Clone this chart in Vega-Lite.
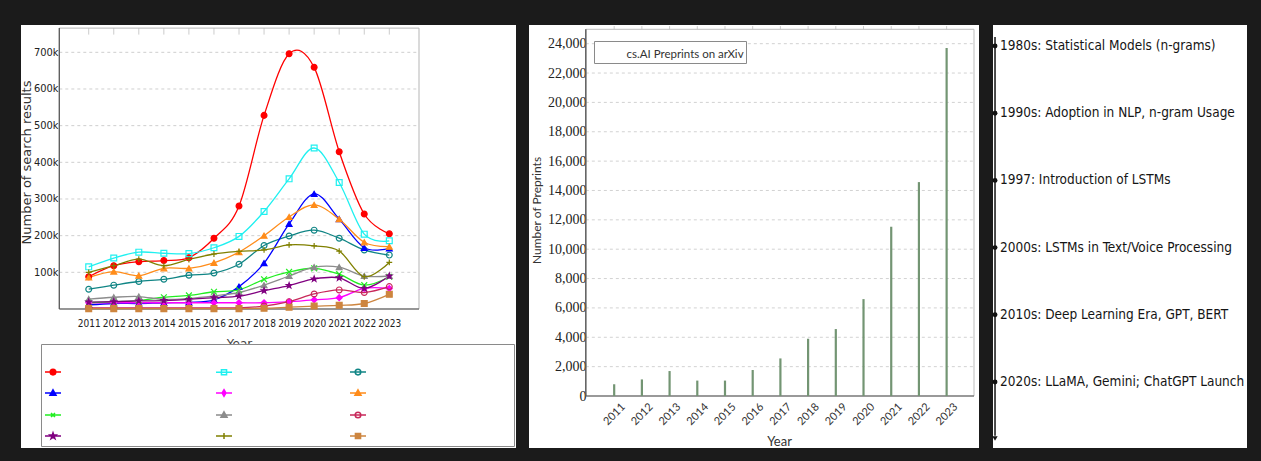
{
  "$schema": "https://vega.github.io/schema/vega-lite/v6.json",
  "background": "#1b1b1b",
  "padding": {"left": 20, "top": 25, "right": 16, "bottom": 13},
  "spacing": 13,
  "config": {"view": {"fill": "white", "stroke": null}, "font": "Lato", "axis": {"labelOverlap": false}},
  "datasets": {
    "search": [
      {"series":"T01","year":2011,"results":88000},{"series":"T01","year":2012,"results":118000},{"series":"T01","year":2013,"results":129000},{"series":"T01","year":2014,"results":132000},{"series":"T01","year":2015,"results":140000},{"series":"T01","year":2016,"results":193000},{"series":"T01","year":2017,"results":281000},{"series":"T01","year":2018,"results":528000},{"series":"T01","year":2019,"results":696000},{"series":"T01","year":2020,"results":659000},{"series":"T01","year":2021,"results":429000},{"series":"T01","year":2022,"results":259000},{"series":"T01","year":2023,"results":205000},
      {"series":"T02","year":2011,"results":115000},{"series":"T02","year":2012,"results":139000},{"series":"T02","year":2013,"results":155000},{"series":"T02","year":2014,"results":152000},{"series":"T02","year":2015,"results":151000},{"series":"T02","year":2016,"results":167000},{"series":"T02","year":2017,"results":198000},{"series":"T02","year":2018,"results":266000},{"series":"T02","year":2019,"results":355000},{"series":"T02","year":2020,"results":439000},{"series":"T02","year":2021,"results":345000},{"series":"T02","year":2022,"results":204000},{"series":"T02","year":2023,"results":186000},
      {"series":"T03","year":2011,"results":54000},{"series":"T03","year":2012,"results":65000},{"series":"T03","year":2013,"results":75000},{"series":"T03","year":2014,"results":81000},{"series":"T03","year":2015,"results":92000},{"series":"T03","year":2016,"results":98000},{"series":"T03","year":2017,"results":122000},{"series":"T03","year":2018,"results":173000},{"series":"T03","year":2019,"results":199000},{"series":"T03","year":2020,"results":215000},{"series":"T03","year":2021,"results":193000},{"series":"T03","year":2022,"results":161000},{"series":"T03","year":2023,"results":147000},
      {"series":"T04","year":2011,"results":11000},{"series":"T04","year":2012,"results":15000},{"series":"T04","year":2013,"results":15000},{"series":"T04","year":2014,"results":17000},{"series":"T04","year":2015,"results":18000},{"series":"T04","year":2016,"results":25000},{"series":"T04","year":2017,"results":61000},{"series":"T04","year":2018,"results":125000},{"series":"T04","year":2019,"results":232000},{"series":"T04","year":2020,"results":314000},{"series":"T04","year":2021,"results":245000},{"series":"T04","year":2022,"results":167000},{"series":"T04","year":2023,"results":165000},
      {"series":"T05","year":2011,"results":17000},{"series":"T05","year":2012,"results":17000},{"series":"T05","year":2013,"results":17000},{"series":"T05","year":2014,"results":17000},{"series":"T05","year":2015,"results":17000},{"series":"T05","year":2016,"results":17000},{"series":"T05","year":2017,"results":17000},{"series":"T05","year":2018,"results":17000},{"series":"T05","year":2019,"results":20000},{"series":"T05","year":2020,"results":25000},{"series":"T05","year":2021,"results":31000},{"series":"T05","year":2022,"results":56000},{"series":"T05","year":2023,"results":56000},
      {"series":"T06","year":2011,"results":86000},{"series":"T06","year":2012,"results":102000},{"series":"T06","year":2013,"results":91000},{"series":"T06","year":2014,"results":111000},{"series":"T06","year":2015,"results":111000},{"series":"T06","year":2016,"results":126000},{"series":"T06","year":2017,"results":155000},{"series":"T06","year":2018,"results":200000},{"series":"T06","year":2019,"results":251000},{"series":"T06","year":2020,"results":284000},{"series":"T06","year":2021,"results":245000},{"series":"T06","year":2022,"results":182000},{"series":"T06","year":2023,"results":170000},
      {"series":"T07","year":2011,"results":17000},{"series":"T07","year":2012,"results":20000},{"series":"T07","year":2013,"results":23000},{"series":"T07","year":2014,"results":32000},{"series":"T07","year":2015,"results":37000},{"series":"T07","year":2016,"results":47000},{"series":"T07","year":2017,"results":52000},{"series":"T07","year":2018,"results":81000},{"series":"T07","year":2019,"results":101000},{"series":"T07","year":2020,"results":111000},{"series":"T07","year":2021,"results":95000},{"series":"T07","year":2022,"results":65000},{"series":"T07","year":2023,"results":88000},
      {"series":"T08","year":2011,"results":27000},{"series":"T08","year":2012,"results":32000},{"series":"T08","year":2013,"results":34000},{"series":"T08","year":2014,"results":26000},{"series":"T08","year":2015,"results":29000},{"series":"T08","year":2016,"results":36000},{"series":"T08","year":2017,"results":45000},{"series":"T08","year":2018,"results":65000},{"series":"T08","year":2019,"results":90000},{"series":"T08","year":2020,"results":114000},{"series":"T08","year":2021,"results":114000},{"series":"T08","year":2022,"results":90000},{"series":"T08","year":2023,"results":90000},
      {"series":"T09","year":2011,"results":3000},{"series":"T09","year":2012,"results":3000},{"series":"T09","year":2013,"results":3000},{"series":"T09","year":2014,"results":3000},{"series":"T09","year":2015,"results":3000},{"series":"T09","year":2016,"results":3000},{"series":"T09","year":2017,"results":3000},{"series":"T09","year":2018,"results":8000},{"series":"T09","year":2019,"results":20000},{"series":"T09","year":2020,"results":41000},{"series":"T09","year":2021,"results":52000},{"series":"T09","year":2022,"results":45000},{"series":"T09","year":2023,"results":61000},
      {"series":"T10","year":2011,"results":19000},{"series":"T10","year":2012,"results":20000},{"series":"T10","year":2013,"results":22000},{"series":"T10","year":2014,"results":23000},{"series":"T10","year":2015,"results":26000},{"series":"T10","year":2016,"results":31000},{"series":"T10","year":2017,"results":35000},{"series":"T10","year":2018,"results":50000},{"series":"T10","year":2019,"results":64000},{"series":"T10","year":2020,"results":82000},{"series":"T10","year":2021,"results":85000},{"series":"T10","year":2022,"results":56000},{"series":"T10","year":2023,"results":90000},
      {"series":"T11","year":2011,"results":100000},{"series":"T11","year":2012,"results":118000},{"series":"T11","year":2013,"results":136000},{"series":"T11","year":2014,"results":118000},{"series":"T11","year":2015,"results":135000},{"series":"T11","year":2016,"results":150000},{"series":"T11","year":2017,"results":157000},{"series":"T11","year":2018,"results":161000},{"series":"T11","year":2019,"results":175000},{"series":"T11","year":2020,"results":172000},{"series":"T11","year":2021,"results":158000},{"series":"T11","year":2022,"results":88000},{"series":"T11","year":2023,"results":127000},
      {"series":"T12","year":2011,"results":1000},{"series":"T12","year":2012,"results":1000},{"series":"T12","year":2013,"results":1000},{"series":"T12","year":2014,"results":1000},{"series":"T12","year":2015,"results":1000},{"series":"T12","year":2016,"results":1000},{"series":"T12","year":2017,"results":1000},{"series":"T12","year":2018,"results":2000},{"series":"T12","year":2019,"results":5000},{"series":"T12","year":2020,"results":8000},{"series":"T12","year":2021,"results":10000},{"series":"T12","year":2022,"results":15000},{"series":"T12","year":2023,"results":40000}
    ],
    "arxiv": [
      {"year":2011,"preprints":800},{"year":2012,"preprints":1130},{"year":2013,"preprints":1700},{"year":2014,"preprints":1050},{"year":2015,"preprints":1050},{"year":2016,"preprints":1770},{"year":2017,"preprints":2560},{"year":2018,"preprints":3900},{"year":2019,"preprints":4560},{"year":2020,"preprints":6600},{"year":2021,"preprints":11530},{"year":2022,"preprints":14570},{"year":2023,"preprints":23700}
    ],
    "timeline": [
      {"order":0,"event":"1980s: Statistical Models (n-grams)"},
      {"order":1,"event":"1990s: Adoption in NLP, n-gram Usage"},
      {"order":2,"event":"1997: Introduction of LSTMs"},
      {"order":3,"event":"2000s: LSTMs in Text/Voice Processing"},
      {"order":4,"event":" 2010s: Deep Learning Era, GPT, BERT"},
      {"order":5,"event":" 2020s: LLaMA, Gemini; ChatGPT Launch"}
    ]
  },
  "hconcat": [
    {
      "width": 495,
      "height": 423,
      "data": {"name": "search"},
      "resolve": {"scale": {"color": "independent", "shape": "independent"}, "legend": {"color": "independent", "shape": "independent"}},
      "layer": [
        {
          "data": {"values": [{"g":100000},{"g":200000},{"g":300000},{"g":400000},{"g":500000},{"g":600000},{"g":700000}]},
          "mark": {"type": "rule", "stroke": "#cfcfcf", "strokeDash": [3, 3], "strokeWidth": 1},
          "encoding": {
            "y": {"field": "g", "type": "quantitative"},
            "x": {"datum": 2009.826},
            "x2": {"datum": 2024.186}
          }
        },
        {
          "data": {"values": [{"year":2011},{"year":2012},{"year":2013},{"year":2014},{"year":2015},{"year":2016},{"year":2017},{"year":2018},{"year":2019},{"year":2020},{"year":2021},{"year":2022},{"year":2023}]},
          "mark": {"type": "rule", "stroke": "#cccccc", "strokeWidth": 1},
          "encoding": {
            "x": {"field": "year", "type": "quantitative"},
            "y": {"datum": 766000},
            "y2": {"datum": 748300}
          }
        },
        {
          "data": {"values": [{}]},
          "mark": {"type": "rect", "fill": "transparent", "stroke": "#b5b5b5", "strokeWidth": 1},
          "encoding": {
            "x": {"datum": 2009.826}, "x2": {"datum": 2024.186},
            "y": {"datum": 0}, "y2": {"datum": 766000}
          }
        },
        {
          "data": {"values": [{}]},
          "mark": {"type": "rule", "stroke": "#555555", "strokeWidth": 1.2},
          "encoding": {"x": {"datum": 2009.826}, "y": {"datum": 0}, "y2": {"datum": 766000}}
        },
        {
          "data": {"values": [{}]},
          "mark": {"type": "rule", "stroke": "#555555", "strokeWidth": 1.2},
          "encoding": {"y": {"datum": 0}, "x": {"datum": 2009.826}, "x2": {"datum": 2024.186}}
        },
        {
          "mark": {"type": "line", "interpolate": "cardinal", "strokeWidth": 1.3},
          "encoding": {
            "x": {
              "field": "year", "type": "quantitative",
              "scale": {"domain": [2008.297, 2028.058], "nice": false, "zero": false},
              "axis": {"orient": "bottom", "offset": -139, "values": [2011,2012,2013,2014,2015,2016,2017,2018,2019,2020,2021,2022,2023], "tickCount": 30, "format": "d", "domain": false, "ticks": false, "tickSize": 0, "grid": false, "labelOverlap": false, "labelFlush": false, "labelPadding": 9, "labelBaseline": "top", "labelAngle": 0, "labelFont": "Liberation Sans Narrow, DejaVu Sans Condensed, Roboto Condensed, Lato", "labelFontSize": 10, "labelColor": "#222222", "title": "Year", "titleFont": "DejaVu Sans", "titleFontSize": 12, "titleFontWeight": "normal", "titleColor": "#444444", "titleX": 218, "titleY": 29, "titleBaseline": "top", "titleAlign": "center"}
            },
            "y": {
              "field": "results", "type": "quantitative",
              "scale": {"domain": [-379100, 774500], "nice": false, "zero": false},
              "axis": {"orient": "left", "offset": -38, "values": [100000,200000,300000,400000,500000,600000,700000], "tickCount": 30, "format": "~s", "domain": false, "ticks": false, "tickSize": 0, "grid": false, "labelOverlap": false, "labelPadding": 1, "labelFont": "Liberation Sans Narrow, DejaVu Sans Condensed, Roboto Condensed, Lato", "labelFontSize": 11, "labelColor": "#222222", "title": "Number of search results", "titleFont": "DejaVu Sans", "titleFontSize": 13, "titleFontWeight": "normal", "titleColor": "#333333", "titleAngle": -90, "titleX": -33, "titleY": 137, "titleAlign": "center", "titleBaseline": "middle"}
            },
            "color": {
              "field": "series", "type": "nominal",
              "scale": {"domain": ["T01","T02","T03","T04","T05","T06","T07","T08","T09","T10","T11","T12"], "range": ["#ff0000","#1ff0f0","#108585","#0000ff","#ff00ff","#ff8c1a","#22ee22","#8c8c8c","#c8285a","#800080","#808000","#cd853f"]},
              "legend": null
            }
          }
        },
        {
          "mark": {"type": "point", "size": 34, "opacity": 1, "strokeWidth": 1.2},
          "encoding": {
            "x": {"field": "year", "type": "quantitative"},
            "y": {"field": "results", "type": "quantitative"},
            "stroke": {
              "field": "series", "type": "nominal",
              "scale": {"domain": ["T01","T02","T03","T04","T05","T06","T07","T08","T09","T10","T11","T12"], "range": ["#ff0000","#1ff0f0","#108585","#0000ff","#ff00ff","#ff8c1a","#22ee22","#8c8c8c","#c8285a","#800080","#808000","#cd853f"]},
              "legend": null
            },
            "fill": {
              "field": "series", "type": "nominal",
              "scale": {"domain": ["T01","T02","T03","T04","T05","T06","T07","T08","T09","T10","T11","T12"], "range": ["#ff0000","transparent","transparent","#0000ff","#ff00ff","#ff8c1a","#22ee22","#8c8c8c","transparent","#800080","#808000","#cd853f"]},
              "legend": null
            },
            "shape": {
              "field": "series", "type": "nominal",
              "scale": {"domain": ["T01","T02","T03","T04","T05","T06","T07","T08","T09","T10","T11","T12"], "range": ["circle","square","circle","triangle-up","diamond","triangle-up","M-1,-1L1,1M-1,1L1,-1","triangle-up","circle","M0,-1L0.235,-0.324L0.951,-0.309L0.38,0.124L0.588,0.809L0,0.4L-0.588,0.809L-0.38,0.124L-0.951,-0.309L-0.235,-0.324Z","M-1,0H1M0,-1V1","square"]},
              "legend": null
            }
          }
        },
        {
          "mark": {"type": "point", "size": 0, "opacity": 1, "filled": false, "strokeWidth": 1.5},
          "encoding": {
            "x": {"field": "year", "type": "quantitative"},
            "y": {"field": "results", "type": "quantitative"},
            "color": {
              "field": "series", "type": "nominal",
              "scale": {"domain": ["T01","T02","T03","T04","T05","T06","T07","T08","T09","T10","T11","T12"], "range": ["#ff0000","#1ff0f0","#108585","#0000ff","#ff00ff","#ff8c1a","#22ee22","#8c8c8c","#c8285a","#800080","#808000","#cd853f"]},
              "legend": {"orient": "none", "legendX": 20, "legendY": 319, "direction": "horizontal", "columns": 3, "gridAlign": "each", "title": " ", "titleFontSize": 10, "titlePadding": 6, "padding": 3, "strokeColor": "#8a8a8a", "fillColor": "white", "symbolSize": 256, "symbolStrokeWidth": 1.5, "rowPadding": 6, "columnPadding": 0, "labelFont": "DejaVu Sans", "labelFontSize": 10, "labelOffset": 4, "labelLimit": 400, "labelExpr": "pad('', indexof(['T01','T04','T07','T10'], datum.value) >= 0 ? 20 : (indexof(['T02','T05','T08','T11'], datum.value) >= 0 ? 15 : 19), '\u2800')"}
            },
            "shape": {
              "field": "series", "type": "nominal",
              "scale": {"domain": ["T01","T02","T03","T04","T05","T06","T07","T08","T09","T10","T11","T12"], "range": [
                "M-1,0H1M0.35,0A0.35,0.35,0,1,1,-0.35,0A0.35,0.35,0,1,1,0.35,0M0.17,0A0.17,0.17,0,1,1,-0.17,0A0.17,0.17,0,1,1,0.17,0",
                "M-1,0H1M-0.32,-0.32H0.32V0.32H-0.32Z",
                "M-1,0H1M0.35,0A0.35,0.35,0,1,1,-0.35,0A0.35,0.35,0,1,1,0.35,0",
                "M-1,0H1M0,-0.4L0.38,0.28H-0.38ZM0,-0.12L0.16,0.14H-0.16Z",
                "M-1,0H1M0,-0.42L0.24,0L0,0.42L-0.24,0ZM0,-0.2V0.2",
                "M-1,0H1M0,-0.4L0.38,0.28H-0.38ZM0,-0.12L0.16,0.14H-0.16Z",
                "M-1,0H1M-0.25,-0.25L0.25,0.25M-0.25,0.25L0.25,-0.25",
                "M-1,0H1M0,-0.4L0.38,0.28H-0.38ZM0,-0.12L0.16,0.14H-0.16Z",
                "M-1,0H1M0.35,0A0.35,0.35,0,1,1,-0.35,0A0.35,0.35,0,1,1,0.35,0",
                "M-1,0H1M0,-0.4L0.09,-0.13L0.38,-0.12L0.15,0.05L0.24,0.32L0,0.16L-0.24,0.32L-0.15,0.05L-0.38,-0.12L-0.09,-0.13Z",
                "M-1,0H1M0,-0.38V0.38",
                "M-1,0H1M-0.32,-0.32H0.32V0.32H-0.32ZM-0.32,-0.16H0.32M-0.32,0.16H0.32"
              ]},
              "legend": {"orient": "none", "legendX": 20, "legendY": 319, "direction": "horizontal", "columns": 3, "gridAlign": "each", "title": " ", "titleFontSize": 10, "titlePadding": 6, "padding": 3, "strokeColor": "#8a8a8a", "fillColor": "white", "symbolSize": 256, "symbolStrokeWidth": 1.5, "rowPadding": 6, "columnPadding": 0, "labelFont": "DejaVu Sans", "labelFontSize": 10, "labelOffset": 4, "labelLimit": 400, "labelExpr": "pad('', indexof(['T01','T04','T07','T10'], datum.value) >= 0 ? 20 : (indexof(['T02','T05','T08','T11'], datum.value) >= 0 ? 15 : 19), '\u2800')"}
            }
          }
        }
      ]
    },
    {
      "width": 450,
      "height": 423,
      "data": {"name": "arxiv"},
      "layer": [
        {
          "data": {"values": [{"g":2000},{"g":4000},{"g":6000},{"g":8000},{"g":10000},{"g":12000},{"g":14000},{"g":16000},{"g":18000},{"g":20000},{"g":22000},{"g":24000}]},
          "mark": {"type": "rule", "stroke": "#d2d2d2", "strokeDash": [3, 3], "strokeWidth": 1},
          "encoding": {
            "y": {"field": "g", "type": "quantitative"},
            "x": {"datum": 2009.977},
            "x2": {"datum": 2023.988}
          }
        },
        {
          "mark": {"type": "rule", "stroke": "#cccccc", "strokeWidth": 1},
          "encoding": {
            "x": {"field": "year", "type": "quantitative"},
            "y": {"datum": 24980},
            "y2": {"datum": 25200}
          }
        },
        {
          "data": {"values": [{}]},
          "mark": {"type": "rect", "fill": "transparent", "stroke": "#bdbdbd", "strokeWidth": 1},
          "encoding": {"x": {"datum": 2009.977}, "x2": {"datum": 2023.988}, "y": {"datum": 0}, "y2": {"datum": 24980}}
        },
        {
          "data": {"values": [{}]},
          "mark": {"type": "rule", "stroke": "#444444", "strokeWidth": 1.2},
          "encoding": {"x": {"datum": 2009.977}, "y": {"datum": 0}, "y2": {"datum": 24980}}
        },
        {
          "data": {"values": [{}]},
          "mark": {"type": "rule", "stroke": "#555555", "strokeWidth": 1.2},
          "encoding": {"y": {"datum": 0}, "x": {"datum": 2009.977}, "x2": {"datum": 2023.988}}
        },
        {
          "mark": {"type": "bar", "width": 2.2},
          "encoding": {
            "x": {
              "field": "year", "type": "quantitative",
              "scale": {"domain": [2008.106, 2023.988], "nice": false, "zero": false},
              "axis": {"orient": "bottom", "offset": -52, "values": [2011,2012,2013,2014,2015,2016,2017,2018,2019,2020,2021,2022,2023], "tickCount": 30, "format": "d", "domain": false, "ticks": false, "tickSize": 0, "grid": false, "labelOverlap": false, "labelFlush": false, "labelAngle": -45, "labelAlign": "center", "labelBaseline": "middle", "labelPadding": 18, "labelFont": "Lato", "labelFontSize": 11, "labelColor": "#333333", "title": "Year", "titleFont": "Lato", "titleFontSize": 13, "titleFontWeight": "normal", "titleColor": "#333333", "titleX": 250, "titleY": 45, "titleBaseline": "middle", "titleAlign": "center"}
            },
            "y": {
              "field": "preprints", "type": "quantitative",
              "scale": {"domain": [-3542, 25272], "nice": false, "zero": false},
              "axis": {"orient": "left", "offset": -53, "values": [0,2000,4000,6000,8000,10000,12000,14000,16000,18000,20000,22000,24000], "tickCount": 30, "format": ",d", "domain": false, "ticks": false, "tickSize": 0, "grid": false, "labelOverlap": false, "labelFlush": false, "labelPadding": -4, "labelFont": "Liberation Serif", "labelFontSize": 14, "labelColor": "#222222", "title": "Number of Preprints", "titleFont": "Lato", "titleFontSize": 12, "titleFontWeight": "normal", "titleColor": "#333333", "titleAngle": -90, "titleX": -46, "titleY": 185, "titleAlign": "center", "titleBaseline": "middle"}
            },
            "y2": {"datum": 0},
            "color": {
              "datum": "cs.AI Preprints on arXiv", "type": "nominal",
              "scale": {"range": ["#739573"]},
              "legend": {"orient": "none", "legendX": 573, "legendY": 16, "title": null, "padding": 2, "strokeColor": "#8a8a8a", "fillColor": "white", "symbolSize": 64, "symbolOpacity": 0, "labelOffset": 19, "labelFont": "Lato", "labelFontSize": 11.5, "labelColor": "#333333", "labelBaseline": "top"}
            }
          }
        }
      ]
    },
    {
      "width": 254,
      "height": 423,
      "data": {"name": "timeline"},
      "layer": [
        {
          "data": {"values": [{}]},
          "mark": {"type": "rule", "stroke": "#111111", "strokeWidth": 1.5},
          "encoding": {
            "x": {"datum": 0, "scale": {"domain": [-0.008, 1], "nice": false, "zero": false}, "axis": null},
            "y": {"datum": -0.134, "scale": {"domain": [-0.3125, 5.982], "nice": false, "zero": false, "reverse": true}, "axis": null},
            "y2": {"datum": 5.8}
          }
        },
        {
          "data": {"values": [{}]},
          "mark": {"type": "point", "shape": "triangle-down", "filled": true, "color": "#111111", "size": 28, "opacity": 1},
          "encoding": {"x": {"datum": 0}, "y": {"datum": 5.84}}
        },
        {
          "mark": {"type": "point", "shape": "circle", "filled": true, "color": "#111111", "size": 24, "opacity": 1},
          "encoding": {"x": {"datum": 0}, "y": {"field": "order", "type": "quantitative"}}
        },
        {
          "mark": {"type": "text", "align": "left", "baseline": "middle", "dx": 5, "font": "Liberation Sans Narrow, DejaVu Sans Condensed, Roboto Condensed, Lato", "fontSize": 13.5, "color": "#151515"},
          "encoding": {
            "x": {"datum": 0},
            "y": {"field": "order", "type": "quantitative"},
            "text": {"field": "event", "type": "nominal"}
          }
        }
      ]
    }
  ]
}
